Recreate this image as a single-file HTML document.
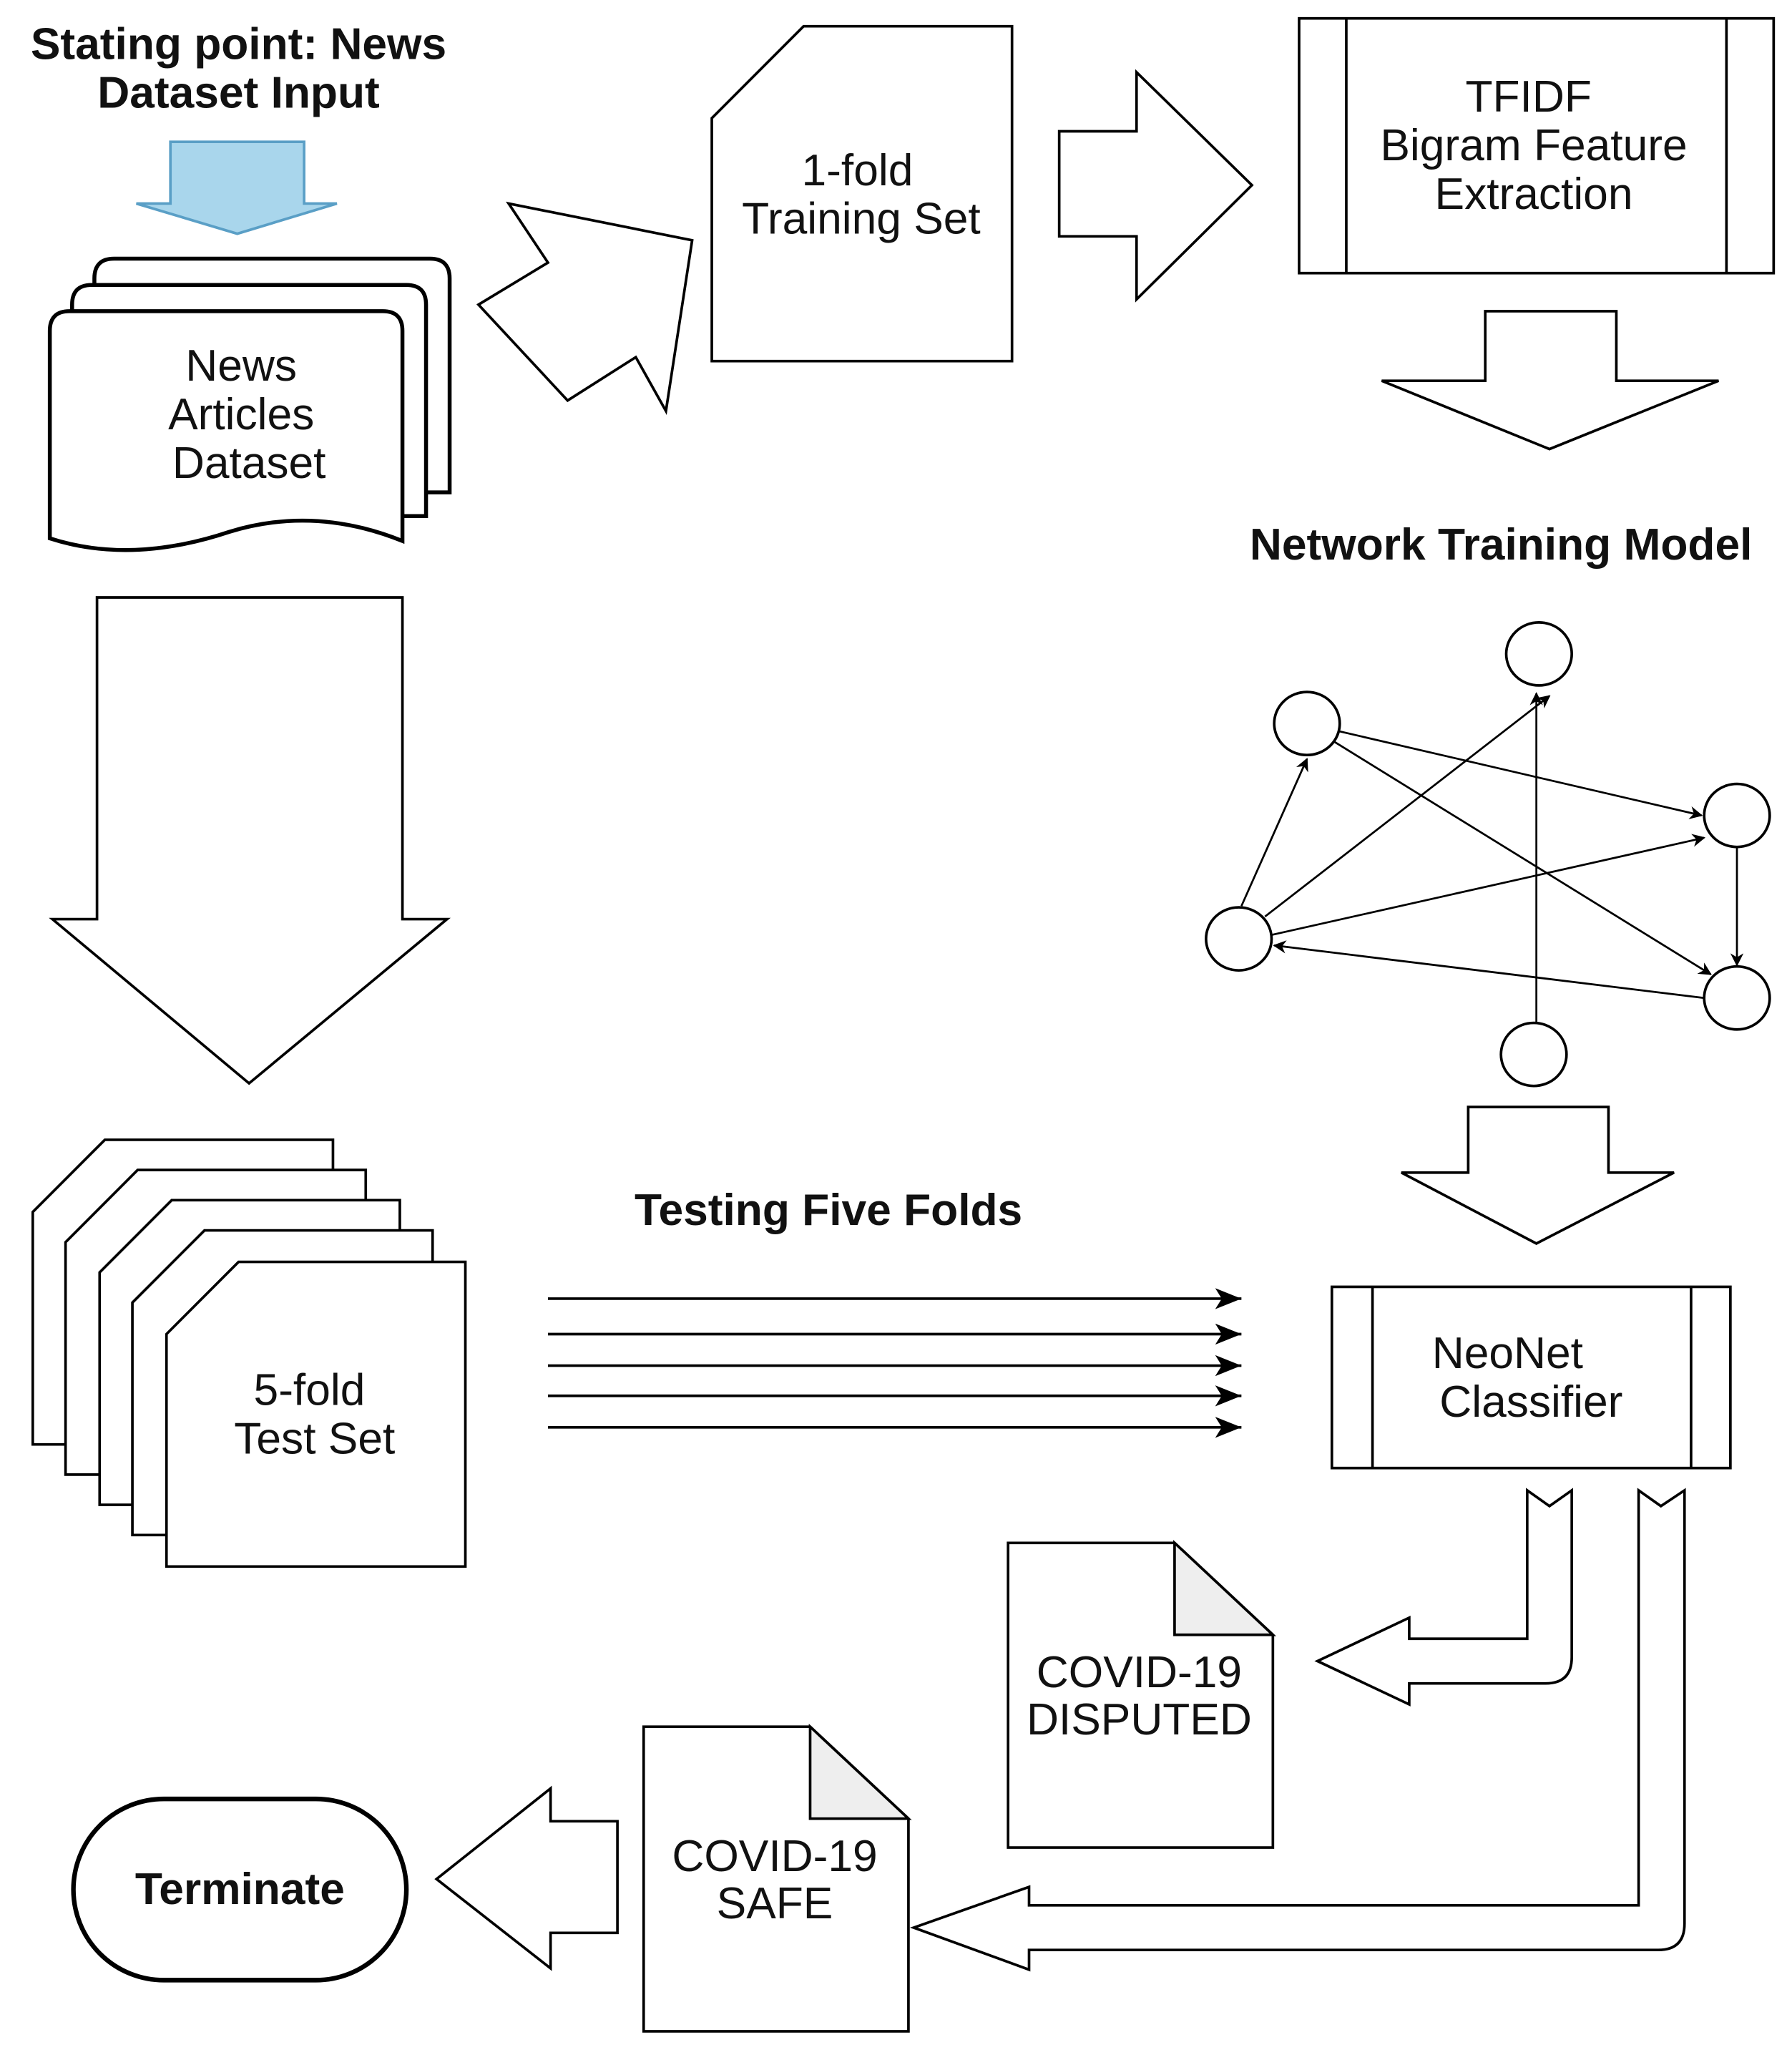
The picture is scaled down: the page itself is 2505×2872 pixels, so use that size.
<!DOCTYPE html>
<html><head><meta charset="utf-8"><style>
html,body{margin:0;padding:0;background:#fff;}
svg{display:block;}
text{font-family:"Liberation Sans",Arial,sans-serif;font-size:34px;fill:#111;text-anchor:middle;}
.b{font-weight:bold;}
</style></head><body>
<svg width="2505" height="2872" viewBox="0 0 1367 1565" preserveAspectRatio="none" xmlns="http://www.w3.org/2000/svg">
<defs><marker id="ah" markerWidth="10" markerHeight="10" refX="9" refY="5" orient="auto" markerUnits="userSpaceOnUse"><path d="M0,0 L10,5 L0,10 L3,5 z" fill="#000"/></marker>
<marker id="ah2" markerWidth="22" markerHeight="16" refX="20" refY="8" orient="auto" markerUnits="userSpaceOnUse"><path d="M0,0 L20,8 L0,16 L5,8 z" fill="#000"/></marker></defs>
<g fill="#fff" stroke="#000" stroke-width="2">
<text class="b" x="182" y="45" stroke="none">Stating point: News</text>
<text class="b" x="182" y="82" stroke="none">Dataset Input</text>
<polygon points="130,108 232,108 232,155 257,155 181,178 104,155 130,155" fill="#a9d6ec" stroke="#5a9fc6"/>
<path d="M72,212 Q72,197 87,197 L328,197 Q343,197 343,212 L343,375 L72,375 Z" stroke-width="3"/>
<path d="M55,232 Q55,217 70,217 L310,217 Q325,217 325,232 L325,393 L55,393 Z" stroke-width="3"/>
<path d="M38,252 Q38,237 53,237 L292,237 Q307,237 307,252 L307,412 Q240,385 175,405 Q100,430 38,410 Z" stroke-width="3"/>
<text x="184" y="290" stroke="none">News</text>
<text x="184" y="327" stroke="none">Articles</text>
<text x="190" y="364" stroke="none">Dataset</text>
<polygon points="365,232 418,200 388,155 528,183 508,313 485,272 433,305"/>
<polygon points="543,90 613,20 772,20 772,275 543,275"/>
<text x="654" y="141" stroke="none">1-fold</text>
<text x="657" y="178" stroke="none">Training Set</text>
<polygon points="808,100 867,100 867,55 955,141 867,228 867,180 808,180"/>
<rect x="991" y="14" width="362" height="194"/>
<line x1="1027" y1="14" x2="1027" y2="208"/><line x1="1317" y1="14" x2="1317" y2="208"/>
<text x="1166" y="85" stroke="none">TFIDF</text>
<text x="1170" y="122" stroke="none">Bigram Feature</text>
<text x="1170" y="159" stroke="none">Extraction</text>
<polygon points="1133,237 1233,237 1233,290 1311,290 1182,342 1054,290 1133,290"/>
<text class="b" x="1145" y="426" stroke="none">Network Training Model</text>
<g stroke-width="1.5">
<line x1="1022" y1="557" x2="1298" y2="621" marker-end="url(#ah)"/>
<line x1="1018" y1="565" x2="1305" y2="742" marker-end="url(#ah)"/>
<line x1="947" y1="690" x2="997" y2="578" marker-end="url(#ah)"/>
<line x1="965" y1="698" x2="1182" y2="530" marker-end="url(#ah)"/>
<line x1="970" y1="712" x2="1300" y2="638" marker-end="url(#ah)"/>
<line x1="1300" y1="760" x2="972" y2="720" marker-end="url(#ah)"/>
<line x1="1172" y1="780" x2="1172" y2="528" marker-end="url(#ah)"/>
<line x1="1325" y1="645" x2="1325" y2="735" marker-end="url(#ah)"/>
</g>
<ellipse cx="997" cy="551" rx="25" ry="24"/>
<ellipse cx="1174" cy="498" rx="25" ry="24"/>
<ellipse cx="1325" cy="621" rx="25" ry="24"/>
<ellipse cx="945" cy="715" rx="25" ry="24"/>
<ellipse cx="1325" cy="760" rx="25" ry="24"/>
<ellipse cx="1170" cy="803" rx="25" ry="24"/>
<polygon points="1120,843 1227,843 1227,893 1277,893 1172,947 1069,893 1120,893"/>
<polygon points="74,455 307,455 307,700 341,700 190,825 40,700 74,700"/>
<polygon points="25,923 80,868 254,868 254,1100 25,1100"/>
<polygon points="50,946 105,891 279,891 279,1123 50,1123"/>
<polygon points="76,969 131,914 305,914 305,1146 76,1146"/>
<polygon points="101,992 156,937 330,937 330,1169 101,1169"/>
<polygon points="127,1016 182,961 355,961 355,1193 127,1193"/>
<text x="236" y="1070" stroke="none">5-fold</text>
<text x="240" y="1107" stroke="none">Test Set</text>
<text class="b" x="632" y="933" stroke="none">Testing Five Folds</text>
<g stroke-width="2">
<line x1="418" y1="989" x2="947" y2="989" marker-end="url(#ah2)"/>
<line x1="418" y1="1016" x2="947" y2="1016" marker-end="url(#ah2)"/>
<line x1="418" y1="1040" x2="947" y2="1040" marker-end="url(#ah2)"/>
<line x1="418" y1="1063" x2="947" y2="1063" marker-end="url(#ah2)"/>
<line x1="418" y1="1087" x2="947" y2="1087" marker-end="url(#ah2)"/>
</g>
<rect x="1016" y="980" width="304" height="138"/>
<line x1="1047" y1="980" x2="1047" y2="1118"/><line x1="1290" y1="980" x2="1290" y2="1118"/>
<text x="1150" y="1042" stroke="none">NeoNet</text>
<text x="1168" y="1079" stroke="none">Classifier</text>
<path d="M1165,1135 L1182,1147 L1199,1135 L1199,1262 Q1199,1282 1179,1282 L1075,1282 L1075,1298 L1005,1265 L1075,1232 L1075,1248 L1165,1248 Z"/>
<path d="M1250,1135 L1267,1147 L1285,1135 L1285,1465 Q1285,1485 1265,1485 L785,1485 L785,1500 L697,1468 L785,1437 L785,1451 L1250,1451 Z"/>
<polygon points="769,1175 896,1175 971,1245 971,1407 769,1407"/>
<polygon points="896,1175 971,1245 896,1245" fill="#eee"/>
<text x="869" y="1285" stroke="none">COVID-19</text>
<text x="869" y="1321" stroke="none">DISPUTED</text>
<polygon points="491,1315 618,1315 693,1385 693,1547 491,1547"/>
<polygon points="618,1315 693,1385 618,1385" fill="#eee"/>
<text x="591" y="1425" stroke="none">COVID-19</text>
<text x="591" y="1461" stroke="none">SAFE</text>
<polygon points="471,1387 420,1387 420,1362 333,1431 420,1499 420,1472 471,1472"/>
<rect x="56" y="1370" width="254" height="138" rx="69" ry="69" stroke-width="3.5"/>
<text class="b" x="183" y="1450" stroke="none">Terminate</text>
</g>
</svg>
</body></html>
